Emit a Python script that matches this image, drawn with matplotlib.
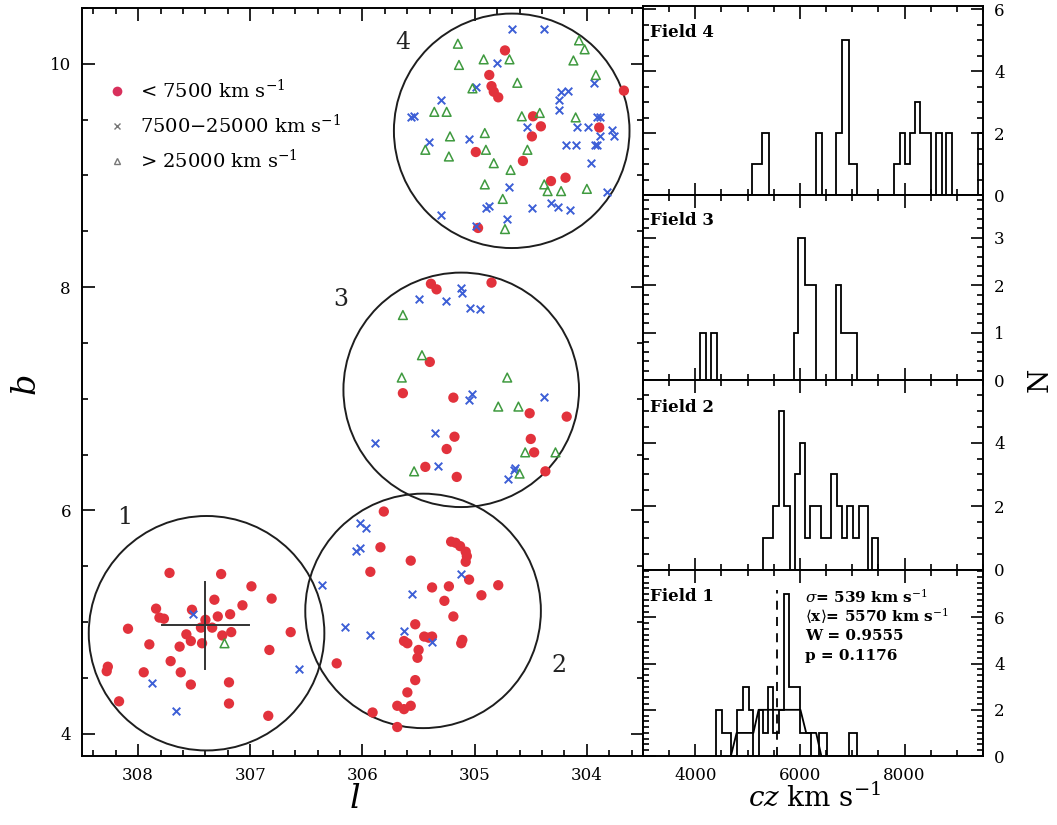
import numpy as np
import matplotlib.pyplot as plt
from matplotlib.patches import Circle
from matplotlib.lines import Line2D
from matplotlib.ticker import MultipleLocator

plt.rcParams['font.family'] = 'DejaVu Serif'
plt.rcParams['mathtext.fontset'] = 'dejavuserif'

# ---- galaxy positions (l, b) -------------------------------------------
# cz < 7500 km/s
red_l = [304.73, 304.87, 304.85, 304.83, 304.79, 304.48, 304.41, 304.49, 304.99, 304.57,
         304.32, 304.19, 303.89, 303.67, 304.97,
         305.39, 305.34, 304.85, 305.40, 305.64, 305.19, 304.51, 304.18, 305.18, 304.50,
         305.25, 304.47, 305.44, 305.16, 304.37,
         305.81, 305.84, 305.57, 305.93, 305.21, 305.17, 305.13, 305.08, 305.07, 305.08,
         305.05, 305.38, 305.23, 305.27, 304.94, 304.79, 305.19, 305.53, 305.63, 305.60,
         305.45, 305.41, 305.38, 305.50, 305.51, 305.11, 305.12, 306.23, 305.53, 305.60,
         305.69, 305.63, 305.57, 305.91, 305.69,
         307.72, 307.26, 306.99, 306.81, 307.32, 307.07, 307.84, 307.81, 307.77, 307.52,
         307.18, 307.29, 307.40, 307.34, 307.44, 308.09, 306.64, 307.17, 307.25, 307.57,
         307.53, 307.43, 307.90, 307.63, 306.83, 307.71, 308.27, 308.28, 307.95, 307.62,
         307.19, 307.53, 308.17, 307.19, 306.84]
red_b = [10.12, 9.90, 9.80, 9.75, 9.70, 9.53, 9.44, 9.35, 9.21, 9.13,
         8.95, 8.98, 9.43, 9.76, 8.53,
         8.03, 7.98, 8.04, 7.33, 7.05, 7.01, 6.87, 6.84, 6.66, 6.64,
         6.55, 6.52, 6.39, 6.30, 6.35,
         5.99, 5.67, 5.55, 5.45, 5.72, 5.71, 5.68, 5.63, 5.59, 5.54,
         5.38, 5.31, 5.32, 5.19, 5.24, 5.33, 5.05, 4.98, 4.83, 4.81,
         4.87, 4.86, 4.87, 4.75, 4.68, 4.84, 4.81, 4.63, 4.48, 4.37,
         4.25, 4.22, 4.25, 4.19, 4.06,
         5.44, 5.43, 5.32, 5.21, 5.20, 5.15, 5.12, 5.04, 5.03, 5.11,
         5.07, 5.05, 5.02, 4.95, 4.95, 4.94, 4.91, 4.91, 4.88, 4.89,
         4.83, 4.81, 4.80, 4.78, 4.75, 4.65, 4.60, 4.56, 4.55, 4.55,
         4.46, 4.44, 4.29, 4.27, 4.16]

# 7500 - 25000 km/s
blue_l = [304.67, 304.38, 304.80, 304.99, 305.30, 305.57, 305.54, 305.41, 305.05, 304.53,
          304.23, 304.17, 304.25, 304.25, 303.94, 303.91, 303.88, 304.09, 303.99, 303.78,
          303.76, 303.88, 304.19, 304.10, 303.93, 303.91, 303.96, 303.82, 304.69, 304.90,
          304.87, 304.49, 304.32, 304.26, 304.15, 305.30, 304.71, 304.99,
          305.50, 305.26, 305.12, 305.11, 305.04, 304.95, 304.38, 305.02, 305.05, 305.35,
          305.89, 305.33, 304.65, 304.64, 304.70,
          306.02, 305.97, 306.06, 306.02, 306.36, 306.16, 305.93, 305.63, 305.56, 305.12,
          305.38, 306.57,
          307.51, 307.88, 307.66]
blue_b = [10.31, 10.31, 10.01, 9.79, 9.68, 9.52, 9.53, 9.30, 9.33, 9.43,
          9.75, 9.76, 9.68, 9.59, 9.83, 9.52, 9.52, 9.43, 9.43, 9.41,
          9.35, 9.35, 9.27, 9.27, 9.27, 9.27, 9.11, 8.85, 8.90, 8.71,
          8.73, 8.71, 8.75, 8.72, 8.69, 8.65, 8.61, 8.55,
          7.89, 7.88, 7.99, 7.95, 7.81, 7.80, 7.02, 7.04, 6.99, 6.69,
          6.60, 6.40, 6.36, 6.38, 6.28,
          5.89, 5.84, 5.64, 5.66, 5.33, 4.96, 4.88, 4.92, 5.25, 5.43,
          4.82, 4.58,
          5.07, 4.45, 4.20]

# > 25000 km/s
green_l = [305.15, 305.14, 304.92, 304.69, 304.62, 305.02, 305.36, 305.25, 305.22, 305.44,
           305.23, 304.91, 304.90, 304.83, 304.68, 304.58, 304.42, 304.53, 304.10, 304.07,
           304.02, 304.12, 303.92, 304.38, 304.35, 304.23, 304.00, 304.91, 304.75, 304.73,
           305.64, 305.47, 305.65, 304.71, 304.79, 304.61, 304.55, 304.28, 305.54, 304.60,
           307.23]
green_b = [10.18, 9.99, 10.04, 10.04, 9.83, 9.78, 9.57, 9.57, 9.35, 9.23,
           9.17, 9.38, 9.23, 9.11, 9.05, 9.53, 9.56, 9.23, 9.52, 10.21,
           10.13, 10.03, 9.90, 8.92, 8.86, 8.86, 8.88, 8.92, 8.79, 8.52,
           7.75, 7.39, 7.19, 7.19, 6.93, 6.93, 6.52, 6.52, 6.35, 6.33,
           4.81]

# field centres, radius and labels
field_names = ['1', '2', '3', '4']
field_l = [307.39, 305.46, 305.12, 304.67]
field_b = [4.90, 5.10, 7.08, 9.40]
field_r = 1.05
label_l = [308.12, 304.25, 306.19, 305.64]
label_b = [5.94, 4.61, 7.89, 10.19]

cross_l, cross_b, cross_half = 307.40, 4.97, 0.39

# ---- velocity histograms (cz edges, counts) ------------------------------
edges4 = [5090, 5280, 5410, 6310, 6420, 6690, 6810, 6930, 7100, 7800, 7910, 8010, 8100,
          8200, 8300, 8510, 8600, 8710, 8790, 8910, 9400, 9500]
counts4 = [1, 2, 0, 2, 0, 2, 5, 1, 0, 1, 2, 1, 2, 3, 2, 0, 2, 0, 2, 0, 2]

edges3 = [4095, 4205, 4300, 4410, 5880, 5970, 6105, 6307, 6686, 6781, 7097]
counts3 = [1, 0, 1, 0, 1, 3, 2, 0, 2, 1]

edges2 = [5296, 5486, 5593, 5694, 5802, 5897, 6004, 6099, 6200, 6402, 6592, 6706, 6813,
          6908, 7022, 7129, 7300, 7382, 7496]
counts2 = [1, 2, 5, 2, 0, 3, 4, 1, 2, 1, 3, 2, 1, 2, 1, 2, 0, 1]

edges1 = [4390, 4510, 4690, 4790, 4920, 5020, 5110, 5210, 5300, 5390, 5490, 5600, 5700,
          5800, 6010, 6210, 6370, 6510, 6930, 7100]
counts1 = [2, 1, 0, 2, 3, 2, 0, 2, 1, 3, 1, 2, 7, 3, 1, 0, 1, 0, 1]
# coarse binned outline of field 1
coarse_cz = [4680, 4790, 5110, 5210, 6010, 6120, 6310, 6410]
coarse_n = [0, 1, 1, 2, 2, 1, 1, 0]
mean_cz = 5570
stats_txt = [r'$\sigma$= 539 km s$^{-1}$', r'$\langle$x$\rangle$= 5570 km s$^{-1}$',
             'W = 0.9555', 'p = 0.1176']

hist_names = ['Field 4', 'Field 3', 'Field 2', 'Field 1']
hist_edges = [edges4, edges3, edges2, edges1]
hist_counts = [counts4, counts3, counts2, counts1]
hist_ymax = [6.1, 3.9, 5.95, 8.05]
hist_yticks = [[0, 2, 4, 6], [0, 1, 2, 3], [0, 2, 4], [0, 2, 4, 6]]
hist_minor = [0.5, 0.2, 0.5, 0.25]

red = '#e2323c'
blue = '#3d5fd6'
green = '#3f9a3f'

fig = plt.figure(figsize=(10.57, 8.25), dpi=100)

# ---- sky map --------------------------------------------------------------
ax = fig.add_axes([0.0776, 0.0836, 0.5307, 0.9067])
ax.scatter(red_l, red_b, s=55, c=red, edgecolors='none', zorder=3)
ax.scatter(blue_l, blue_b, s=30, marker='x', c=blue, linewidths=1.4, zorder=3)
ax.scatter(green_l, green_b, s=40, marker='^', facecolors='none', edgecolors=green,
           linewidths=1.1, zorder=3)
for l0, b0 in zip(field_l, field_b):
    ax.add_patch(Circle((l0, b0), field_r, fill=False, ec='#1e1e1e', lw=1.4, zorder=2))
for name, x, y in zip(field_names, label_l, label_b):
    ax.text(x, y, name, fontsize=17, ha='center', va='center', color='#222222')
ax.plot([cross_l - cross_half, cross_l + cross_half], [cross_b, cross_b], color='#333333', lw=1.4, zorder=4)
ax.plot([cross_l, cross_l], [cross_b - cross_half, cross_b + cross_half], color='#333333', lw=1.4, zorder=4)

ax.set_xlim(308.5, 303.5)
ax.set_ylim(3.8, 10.5)
ax.set_xticks([308, 307, 306, 305, 304])
ax.set_yticks([4, 6, 8, 10])
ax.xaxis.set_minor_locator(MultipleLocator(0.2))
ax.yaxis.set_minor_locator(MultipleLocator(0.5))
ax.tick_params(which='both', direction='in', top=True, right=True, width=1.2, labelsize=12)
ax.tick_params(which='major', length=9, pad=8)
ax.tick_params(which='minor', length=4.5)
for sp in ax.spines.values():
    sp.set_linewidth(1.4)

handles = [Line2D([], [], ls='none', marker='o', ms=7, mfc='#d8305c', mec='none'),
           Line2D([], [], ls='none', marker='x', ms=4, mec='#777777', mew=1),
           Line2D([], [], ls='none', marker='^', ms=4.5, mfc='none', mec='#777777', mew=1)]
labels = [r'< 7500 km s$^{-1}$', r'7500$-$25000 km s$^{-1}$', r'> 25000 km s$^{-1}$']
ax.legend(handles, labels, loc='upper left', bbox_to_anchor=(0.045, 0.905), frameon=False,
          fontsize=14, handlelength=1.0, handletextpad=0.7, labelspacing=0.6,
          borderpad=0, borderaxespad=0)

# ---- histograms -------------------------------------------------------------
bottoms = [0.7636, 0.5388, 0.3091, 0.0836]
heights = [0.2291, 0.2248, 0.2297, 0.2255]
for i in range(4):
    h = fig.add_axes([0.6083, bottoms[i], 0.3217, heights[i]])
    h.stairs(hist_counts[i], hist_edges[i], color='k', lw=1.3)
    h.set_xlim(3000, 9500)
    h.set_ylim(0, hist_ymax[i])
    h.set_xticks([4000, 6000, 8000])
    h.xaxis.set_minor_locator(MultipleLocator(500))
    h.set_yticks(hist_yticks[i])
    h.yaxis.set_minor_locator(MultipleLocator(hist_minor[i]))
    h.yaxis.tick_right()
    h.tick_params(which='both', direction='in', top=True, left=True, right=True, width=1.2,
                  labelsize=12)
    h.tick_params(which='major', length=9, pad=8)
    h.tick_params(which='minor', length=4.5)
    if i < 3:
        h.tick_params(labelbottom=False)
    for sp in h.spines.values():
        sp.set_linewidth(1.4)
    h.text(0.02, 0.86, hist_names[i], transform=h.transAxes, fontsize=12, fontweight='bold',
           ha='left', va='center')
    if i == 3:
        h.plot(coarse_cz, coarse_n, color='k', lw=1.3)
        h.plot([mean_cz, mean_cz], [0, 7.2], color='k', lw=1.3, ls=(0, (5, 4)))
        for j, t in enumerate(stats_txt):
            h.text(0.476, 0.855 - j * 0.105, t, transform=h.transAxes, fontsize=11,
                   fontweight='bold', ha='left', va='center')

fig.text(0.024, 0.535, 'b', fontsize=24, style='italic', rotation=90, ha='center', va='center')
fig.text(0.336, 0.032, 'l', fontsize=24, style='italic', ha='center', va='center')
fig.text(0.771, 0.032, r'$cz$ km s$^{-1}$', fontsize=20, ha='center', va='center')
fig.text(0.984, 0.54, 'N', fontsize=20, rotation=90, ha='center', va='center')

fig.savefig('out.png', dpi=100)
